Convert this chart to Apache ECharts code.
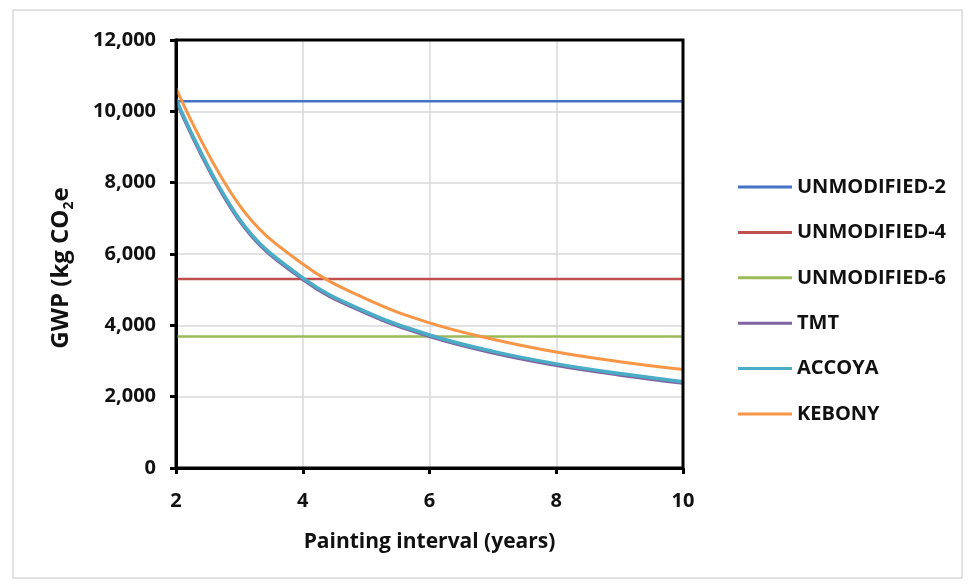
<!DOCTYPE html>
<html>
<head>
<meta charset="utf-8">
<script src="https://cdn.jsdelivr.net/npm/echarts@6/dist/echarts.min.js"></script>
<style>html,body{margin:0;padding:0;background:#fff;}#c{width:970px;height:585px;}</style>
</head>
<body>
<div id="c"></div>
<script>
// ---- data ----
const years = [2, 3, 4, 5, 6, 7, 8, 9, 10];
const seriesNames = ['UNMODIFIED-2', 'UNMODIFIED-4', 'UNMODIFIED-6', 'TMT', 'ACCOYA', 'KEBONY'];
const unmodified2 = [10280, 10280, 10280, 10280, 10280, 10280, 10280, 10280, 10280];
const unmodified4 = [5300, 5300, 5300, 5300, 5300, 5300, 5300, 5300, 5300];
const unmodified6 = [3690, 3690, 3690, 3690, 3690, 3690, 3690, 3690, 3690];
const tmt    = [10300, 6940, 5290, 4340, 3690, 3230, 2880, 2610, 2380];
const accoya = [10350, 6980, 5330, 4380, 3730, 3270, 2920, 2650, 2420];
const kebony = [10650, 7370, 5720, 4740, 4070, 3610, 3250, 2980, 2760];
const yTicks = [0, 2000, 4000, 6000, 8000, 10000, 12000];
const xTicks = [2, 4, 6, 8, 10];

const colors = ['#4472C4', '#C0504D', '#9BBB59', '#8064A2', '#4BACC6', '#F79646'];
const allValues = [unmodified2, unmodified4, unmodified6, tmt, accoya, kebony];
const widths = [2.5, 2.5, 2.5, 3.5, 3.5, 3];
const smoothFlags = [false, false, false, true, true, true];

const FONT = '"Open Sans", "DejaVu Sans", sans-serif';

const chart = echarts.init(document.getElementById('c'), null, {renderer: 'canvas'});
chart.setOption({
  backgroundColor: '#fff',
  animation: false,
  graphic: [{
    type: 'rect', shape: {x: 13, y: 10, width: 949, height: 568},
    style: {fill: 'none', stroke: '#d9d9d9', lineWidth: 1.5}, z: -1
  }],
  grid: {left: 176, right: 287, top: 40, bottom: 117, show: true, borderColor: '#000', borderWidth: 3, backgroundColor: 'transparent', z: 10},
  legend: {
    orient: 'vertical', left: 733, top: 170,
    icon: 'rect', itemWidth: 54, itemHeight: 3, itemGap: 21.4,
    textStyle: {fontFamily: FONT, fontWeight: 'bold', fontSize: 20, color: '#111', lineHeight: 24, padding: [0, 0, 0, 0]},
    data: seriesNames
  },
  xAxis: {
    type: 'value', min: xTicks[0], max: xTicks[xTicks.length - 1], interval: 2,
    name: 'Painting interval (years)', nameLocation: 'middle', nameGap: 64,
    nameTextStyle: {fontFamily: FONT, fontWeight: 'bold', fontSize: 21, color: '#111'},
    axisLine: {show: true, onZero: false, lineStyle: {color: '#000', width: 3}},
    axisTick: {show: true, length: 6, lineStyle: {color: '#000', width: 3}},
    axisLabel: {fontFamily: FONT, fontWeight: 'bold', fontSize: 20, color: '#111', margin: 23},
    splitLine: {show: true, showMinLine: false, showMaxLine: false, lineStyle: {color: '#d9d9d9', width: 1.5}}
  },
  yAxis: {
    type: 'value', min: yTicks[0], max: yTicks[yTicks.length - 1], interval: 2000,
    name: 'GWP (kg CO{sub|2}e', nameLocation: 'middle', nameGap: 100, nameRotate: 90,
    nameTextStyle: {fontFamily: FONT, fontWeight: 'bold', fontSize: 24, color: '#111', padding: [0, 28, 0, 0],
      rich: {sub: {fontFamily: FONT, fontWeight: 'bold', fontSize: 14, color: '#111', verticalAlign: 'bottom', lineHeight: 30, padding: [0, 0, 0, 0]}}},
    axisLine: {show: true, lineStyle: {color: '#000', width: 3}},
    axisTick: {show: true, length: 6, lineStyle: {color: '#000', width: 3}},
    axisLabel: {fontFamily: FONT, fontWeight: 'bold', fontSize: 20, color: '#111', margin: 20,
      formatter: v => v.toLocaleString('en-US')},
    splitLine: {show: true, showMinLine: false, showMaxLine: false, lineStyle: {color: '#d9d9d9', width: 1.5}}
  },
  series: seriesNames.map((n, i) => ({
    name: n, type: 'line',
    data: years.map((x, j) => [x, allValues[i][j]]),
    smooth: smoothFlags[i] ? 0.4 : false,
    showSymbol: false, symbol: 'none',
    color: colors[i],
    lineStyle: {color: colors[i], width: widths[i]},
    z: 2 + i
  }))
});
</script>
</body>
</html>
